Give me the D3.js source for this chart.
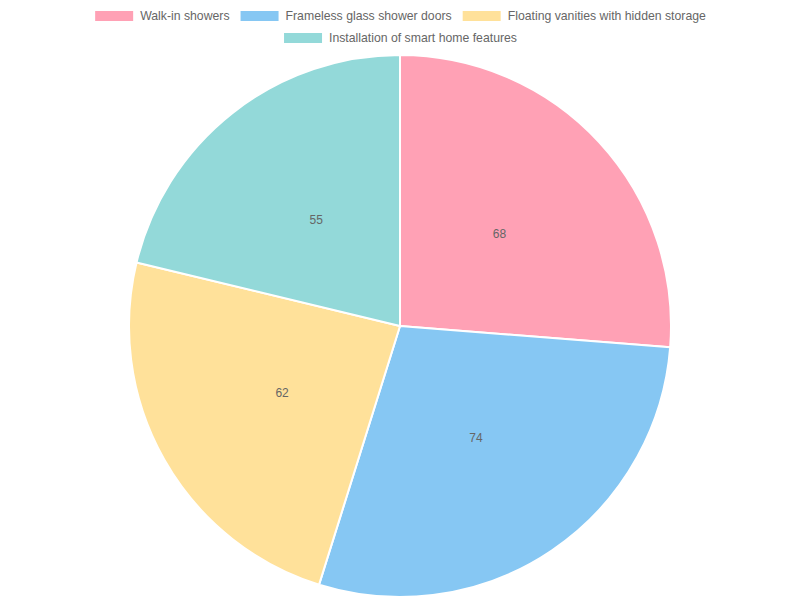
<!DOCTYPE html>
<html><head><meta charset="utf-8">
<script src="https://cdn.jsdelivr.net/npm/d3@7"></script>
<style>body{margin:0;background:#fff}svg{display:block}</style>
</head><body>
<svg id="c" width="800" height="600"></svg>
<script>
const categories = ["Walk-in showers","Frameless glass shower doors","Floating vanities with hidden storage","Installation of smart home features"];
const values = [68, 74, 62, 55];
const colors = ["rgb(255,161,181)","rgb(134,199,243)","rgb(255,225,154)","rgb(147,217,217)"];

const svg = d3.select("#c");
const font = "'Liberation Sans', Arial, Helvetica, sans-serif";
const W = 800, fs = 12, lfs = 12.25, boxW = 40, pad = 10;

// legend layout (Chart.js-like)
const lg = svg.append("g");
const items = categories.map((c,i)=>{
  const t = lg.append("text").attr("font-family",font).attr("font-size",lfs).attr("fill","#666").text(c);
  return {i, t, w: boxW + fs/2 + t.node().getComputedTextLength()};
});
const rows = [[]]; let rw = 0;
items.forEach(it=>{
  const add = it.w + pad;
  if (rows[rows.length-1].length && rw + add > W) { rows.push([]); rw = 0; }
  rows[rows.length-1].push(it); rw += add;
});
rows.forEach((row,ri)=>{
  const total = d3.sum(row, d=>d.w) + pad*(row.length-1);
  let x = (W - total)/2;
  const y = pad + ri*(fs+pad);
  row.forEach(it=>{
    lg.append("rect").attr("x",x).attr("y",y).attr("width",boxW).attr("height",fs)
      .attr("fill",colors[it.i]).attr("stroke","#fff").attr("stroke-width",2);
    it.t.attr("x", x + boxW + fs/2).attr("y", y + fs/2).attr("dominant-baseline","central");
    x += it.w + pad;
  });
});

const cx = 400, cy = 326, r = 271;
const pie = d3.pie().sort(null).value(d=>d)(values);
const arc = d3.arc().innerRadius(0).outerRadius(r);
const g = svg.append("g").attr("transform",`translate(${cx},${cy})`);
g.selectAll("path").data(pie).join("path")
  .attr("d",arc).attr("fill",(d,i)=>colors[i])
  .attr("stroke","#fff").attr("stroke-width",2).attr("stroke-linejoin","round");
const lab = d3.arc().innerRadius(r/2).outerRadius(r/2);
g.selectAll("text.v").data(pie).join("text").attr("class","v")
  .attr("transform",d=>`translate(${lab.centroid(d)})`)
  .attr("text-anchor","middle").attr("dominant-baseline","central")
  .attr("font-family",font).attr("font-size",fs).attr("fill","#666")
  .text(d=>d.data);
</script>
</body></html>
